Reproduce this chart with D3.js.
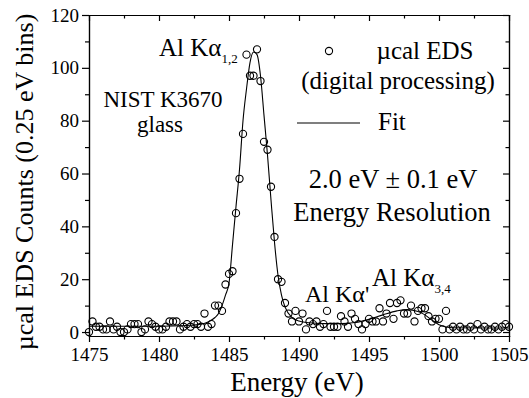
<!DOCTYPE html>
<html>
<head>
<meta charset="utf-8">
<script src="https://cdn.jsdelivr.net/npm/d3@7"></script>
<style>
body { margin: 0; background: #fff; }
text { font-family: "Liberation Serif", "Times New Roman", serif; fill: #000; }
.axis path, .axis line { stroke: #000; stroke-width: 1.2; }
</style>
</head>
<body>
<script>
// measured counts, one value per 0.25 eV bin starting at 1475 eV
var counts = [
  0, 4, 2, 2, 1, 1, 4, 1, 2, 0, 0, 1, 3, 3, 3, 0, 1, 4, 3, 2,
  1, 1, 2, 4, 4, 4, 1, 2, 3, 2, 3, 3, 2, 7, 2, 3, 10, 10, 8, 18,
  22, 23, 45, 58, 75, 105, 97, 97, 107, 95, 72, 69, 55, 36, 20, 19, 11, 7, 4, 8,
  4, 7, 1, 4, 3, 4, 2, 3, 8, 2, 2, 2, 6, 4, 2, 7, 5, 3, 1, 3,
  5, 4, 4, 9, 4, 7, 11, 5, 11, 12, 7, 7, 10, 4, 8, 9, 9, 6, 4, 5,
  5, 1, 8, 1, 2, 1, 2, 1, 1, 2, 1, 3, 1, 2, 1, 1, 2, 1, 2, 3,
  2
];
var binStart = 1475, binWidth = 0.25;

// fit curve
var fitEnergy = [1475, 1477, 1479, 1481, 1482, 1483, 1483.5, 1484, 1484.25, 1484.5, 1484.75,
  1485, 1485.25, 1485.5, 1485.75, 1486, 1486.25, 1486.5, 1486.75, 1487, 1487.25, 1487.5,
  1487.75, 1488, 1488.25, 1488.5, 1488.75, 1489, 1489.5, 1490, 1491, 1492, 1493, 1494,
  1495, 1496, 1497, 1497.7, 1498.5, 1499, 1499.5, 1500, 1500.5, 1501, 1503, 1505];
var fitCounts = [2.2, 2.2, 2.2, 2.3, 2.5, 3, 3.8, 5.5, 7, 10, 14,
  18.5, 33, 47.5, 61.5, 80, 92, 102, 106, 105, 97, 82,
  67, 50, 34, 21.5, 14, 9.5, 5.5, 4.2, 3.4, 3.2, 3.2, 3.6,
  4.8, 6.5, 8, 8.5, 7.8, 6.5, 4.5, 2.8, 1.9, 1.6, 1.5, 1.5];

var xTicks = [1475, 1480, 1485, 1490, 1495, 1500, 1505];
var xMinor = [1477.5, 1482.5, 1487.5, 1492.5, 1497.5, 1502.5];
var yTicks = [0, 20, 40, 60, 80, 100, 120];
var yMinor = [10, 30, 50, 70, 90, 110];

var width = 529, height = 398;
var plot = {left: 89, right: 509, top: 15, bottom: 336};

var x = d3.scaleLinear().domain([1475, 1505]).range([plot.left, plot.right]);
var y = d3.scaleLinear().domain([-1.5, 120]).range([plot.bottom, plot.top]);

var svg = d3.select("body").append("svg")
    .attr("width", width)
    .attr("height", height);

var points = counts.map(function(c, i) { return {e: binStart + i * binWidth, c: c}; });
var fit = fitEnergy.map(function(e, i) { return {e: e, c: fitCounts[i]}; });

// fit line
var line = d3.line()
    .x(function(d) { return x(d.e); })
    .y(function(d) { return y(d.c); })
    .curve(d3.curveMonotoneX);

svg.append("path")
    .datum(fit)
    .attr("d", line)
    .attr("fill", "none")
    .attr("stroke", "#000")
    .attr("stroke-width", 1.1);

// data points
svg.selectAll(".pt")
    .data(points)
    .enter().append("circle")
    .attr("class", "pt")
    .attr("cx", function(d) { return x(d.e); })
    .attr("cy", function(d) { return y(d.c); })
    .attr("r", 3.6)
    .attr("fill", "none")
    .attr("stroke", "#000")
    .attr("stroke-width", 1.1);

// axes, major and minor ticks
function noLabels(a) { return a.tickFormat(""); }

svg.append("g").attr("class", "axis")
    .attr("transform", "translate(0," + plot.bottom + ")")
    .call(d3.axisBottom(x).tickValues(xTicks).tickFormat(d3.format("d"))
        .tickSize(6).tickSizeOuter(0).tickPadding(6))
    .call(function(g) { g.selectAll("text").style("font-size", "19px"); });
svg.append("g").attr("class", "axis")
    .attr("transform", "translate(0," + plot.bottom + ")")
    .call(noLabels(d3.axisBottom(x).tickValues(xMinor).tickSize(3.5).tickSizeOuter(0)));

svg.append("g").attr("class", "axis")
    .attr("transform", "translate(0," + plot.top + ")")
    .call(noLabels(d3.axisBottom(x).tickValues(xTicks).tickSize(6).tickSizeOuter(0)));
svg.append("g").attr("class", "axis")
    .attr("transform", "translate(0," + plot.top + ")")
    .call(noLabels(d3.axisBottom(x).tickValues(xMinor).tickSize(3.5).tickSizeOuter(0)));

svg.append("g").attr("class", "axis")
    .attr("transform", "translate(" + plot.left + ",0)")
    .call(d3.axisLeft(y).tickValues(yTicks).tickSize(7).tickSizeOuter(0).tickPadding(3))
    .call(function(g) { g.selectAll("text").style("font-size", "19px"); });
svg.append("g").attr("class", "axis")
    .attr("transform", "translate(" + plot.left + ",0)")
    .call(noLabels(d3.axisLeft(y).tickValues(yMinor).tickSize(4).tickSizeOuter(0)));

svg.append("g").attr("class", "axis")
    .attr("transform", "translate(" + plot.right + ",0)")
    .call(noLabels(d3.axisLeft(y).tickValues(yTicks).tickSize(6).tickSizeOuter(0)));
svg.append("g").attr("class", "axis")
    .attr("transform", "translate(" + plot.right + ",0)")
    .call(noLabels(d3.axisLeft(y).tickValues(yMinor).tickSize(3.5).tickSizeOuter(0)));

svg.selectAll(".axis .domain").attr("stroke-linecap", "square");

// axis titles
svg.append("text")
    .attr("x", 297).attr("y", 391)
    .attr("text-anchor", "middle")
    .style("font-size", "27px")
    .text("Energy (eV)");

svg.append("text")
    .attr("transform", "translate(33,182) rotate(-90)")
    .attr("text-anchor", "middle")
    .style("font-size", "26px")
    .text("\u00b5cal EDS Counts (0.25 eV bins)");

// legend
svg.append("circle")
    .attr("cx", 329).attr("cy", 51).attr("r", 3.6)
    .attr("fill", "none").attr("stroke", "#000").attr("stroke-width", 1.1);
svg.append("text").attr("x", 425).attr("y", 59)
    .attr("text-anchor", "middle").style("font-size", "25px")
    .text("\u00b5cal EDS");
svg.append("text").attr("x", 398).attr("y", 89)
    .attr("text-anchor", "middle").style("font-size", "25px")
    .text("(digital processing)");
svg.append("line")
    .attr("x1", 297).attr("x2", 360).attr("y1", 123).attr("y2", 123)
    .attr("stroke", "#000").attr("stroke-width", 1.1);
svg.append("text").attr("x", 378).attr("y", 130)
    .style("font-size", "25px")
    .text("Fit");

// annotations
svg.append("text").attr("x", 163).attr("y", 107)
    .attr("text-anchor", "middle").style("font-size", "23px")
    .text("NIST K3670");
svg.append("text").attr("x", 160).attr("y", 132)
    .attr("text-anchor", "middle").style("font-size", "23px")
    .text("glass");

svg.append("text").attr("x", 393).attr("y", 188)
    .attr("text-anchor", "middle").style("font-size", "26.5px")
    .text("2.0 eV \u00b1 0.1 eV");
svg.append("text").attr("x", 392).attr("y", 221)
    .attr("text-anchor", "middle").style("font-size", "26.5px")
    .text("Energy Resolution");

var ka12 = svg.append("text").attr("x", 159).attr("y", 56).style("font-size", "25px");
ka12.append("tspan").text("Al K\u03b1");
ka12.append("tspan").attr("dy", 7).style("font-size", "13px").text("1,2");

svg.append("text").attr("x", 305).attr("y", 302)
    .style("font-size", "24px")
    .text("Al K\u03b1'");

var ka34 = svg.append("text").attr("x", 372).attr("y", 286).style("font-size", "25px");
ka34.append("tspan").text("Al K\u03b1");
ka34.append("tspan").attr("dy", 7).style("font-size", "13px").text("3,4");
</script>
</body>
</html>
